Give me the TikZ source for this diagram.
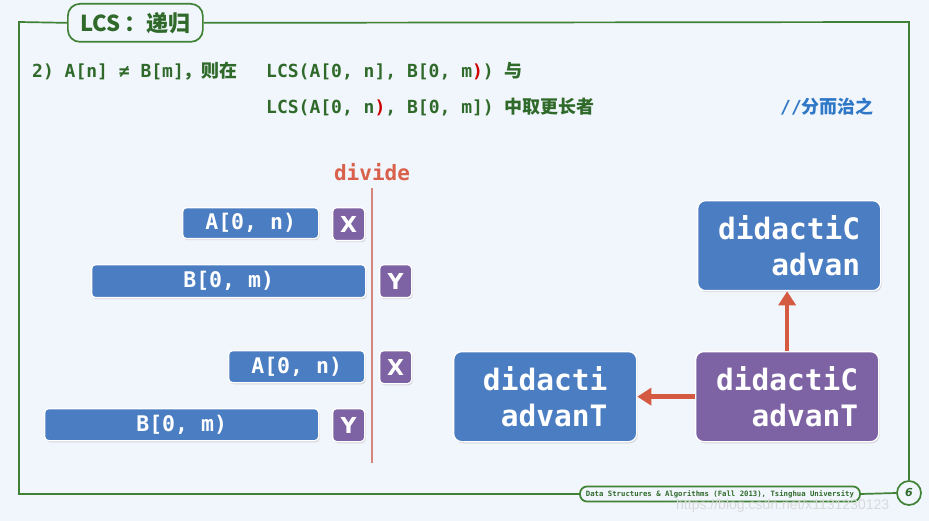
\documentclass[tikz,border=0pt]{standalone}
\usepackage{fontspec}
\setmonofont{DejaVu Sans Mono}
\newfontfamily\cjk{Noto Sans CJK SC}
\newfontfamily\sansb{DejaVu Sans}
\newfontfamily\wmfont{Liberation Sans}
\usetikzlibrary{arrows.meta,shadows}
\definecolor{bg}{HTML}{F1F5FC}
\definecolor{framegreen}{HTML}{3F8236}
\definecolor{textgreen}{HTML}{2F6A2A}
\definecolor{boxblue}{HTML}{4A7DC1}
\definecolor{boxpurple}{HTML}{7D63A4}
\definecolor{arrowred}{HTML}{D45A42}
\definecolor{divred}{HTML}{D9604B}
\definecolor{divline}{HTML}{D58579}
\definecolor{noteblue}{HTML}{2F78C8}
\tikzset{
  boxbase/.style={rectangle, rounded corners=4pt, draw=white, line width=1.3pt,
    drop shadow={shadow xshift=1pt, shadow yshift=-1.6pt, opacity=0.28},
    text=white, inner sep=0pt, anchor=north west},
  strbox/.style={boxbase, fill=boxblue, font=\ttfamily\bfseries\fontsize{21.5}{24}\selectfont},
  chbox/.style={boxbase, fill=boxpurple, minimum width=32pt, minimum height=33pt,
    font=\sansb\bfseries\fontsize{22}{24}\selectfont},
  bigbox/.style={boxbase, rounded corners=8pt, minimum width=183pt, minimum height=90pt,
    align=right, font=\ttfamily\bfseries\fontsize{29.5}{36}\selectfont},
  mtext/.style={anchor=west, inner sep=0pt, text=textgreen},
  redarrow/.style={draw=arrowred, line width=4.5pt, -{Triangle[width=17pt,length=14pt]}},
  frameline/.style={draw=framegreen, line width=1.7pt},
}
\newcommand{\mt}[1]{{\ttfamily\bfseries\fontsize{18}{20}\selectfont #1}}
\newcommand{\ct}[1]{{\cjk\bfseries\fontsize{18}{20}\selectfont #1}}
\newcommand{\rp}{\textcolor{red!80!black}{)}}
\begin{document}
\begin{tikzpicture}[x=1pt,y=-1pt]
\fill[bg] (0,0) rectangle (929,521);
\useasboundingbox (0,0) rectangle (929,521);

% title and frame
\node[frameline, rounded corners=12pt, fill=bg, minimum width=135pt, minimum height=38pt,
  anchor=north west, inner sep=0pt, text=textgreen,
  font=\cjk\bfseries\fontsize{22}{24}\selectfont] (title) at (67,3) {LCS\,：递归};
\node[frameline, rounded corners=7pt, fill=bg, minimum width=280pt, minimum height=15pt,
  inner sep=0pt, text=textgreen, font=\ttfamily\bfseries\fontsize{7.3}{8}\selectfont]
  (footer) at (720,494) {Data Structures \& Algorithms (Fall 2013), Tsinghua University};
\node[frameline, circle, minimum size=24pt, inner sep=0pt, fill=bg, text=textgreen,
  font=\sansb\bfseries\itshape\fontsize{11}{12}\selectfont] (pg) at (909,493) {6};
\coordinate (tl) at (19,22);
\coordinate (bl) at (19,494);
\coordinate (tr) at (909,22);
\draw[frameline] (title.west) -- (tl) -- (bl) -- (footer.west);
\draw[frameline] (footer.east) -- (pg.west);
\draw[frameline] (title.east) -- (tr) -- (pg.north);

% text lines
\node[mtext] (l1a) at (32,71) {\mt{2) A[n] ≠ B[m]}\ct{，则在}};
\node[mtext] (l1b) at (266,71) {\mt{LCS(A[0, n], B[0, m\rp) }\ct{与}};
\node[mtext] (l2) at (266,107) {\mt{LCS(A[0, n\rp, B[0, m]) }\ct{中取更长者}};
\node[anchor=west, inner sep=0pt, text=noteblue] (note) at (780,107)
  {\mt{//}\ct{分而治之}};

% divide
\coordinate (dtop) at (372,188);
\coordinate (dbot) at (372,463);
\draw[draw=divline, line width=1.6pt] (dtop) -- (dbot);
\node[text=divred, inner sep=0pt, font=\ttfamily\bfseries\fontsize{21}{22}\selectfont]
  (dlbl) at (372,172) {divide};

% string boxes
\node[strbox, minimum width=136pt, minimum height=31pt] (a1) at (182,207) {A[0, n)};
\node[chbox] (x1) at (332,207) {X};
\node[strbox, minimum width=274pt, minimum height=33pt] (b1) at (91,264) {B[0, m)};
\node[chbox] (y1) at (379,264) {Y};
\node[strbox, minimum width=136pt, minimum height=32pt] (a2) at (228,350) {A[0, n)};
\node[chbox] (x2) at (379,350) {X};
\node[strbox, minimum width=274pt, minimum height=32pt] (b2) at (44,408) {B[0, m)};
\node[chbox] (y2) at (332,408) {Y};

% right boxes
\node[bigbox, fill=boxblue] (top) at (697,200) {didactiC\\advan};
\node[bigbox, fill=boxblue] (left) at (453,351) {didacti\\advanT};
\node[bigbox, fill=boxpurple] (br) at (695,351) {didactiC\\advanT};
\draw[redarrow] (br.north) -- (br.north |- top.south);
\draw[redarrow] (br.west) -- (left.east);

% watermark
\node[anchor=west, inner sep=0pt, text=gray!30, font=\wmfont\fontsize{14}{15}\selectfont]
  (wm) at (676,506) {https://blog.csdn.net/x1131230123};
\end{tikzpicture}
\end{document}
